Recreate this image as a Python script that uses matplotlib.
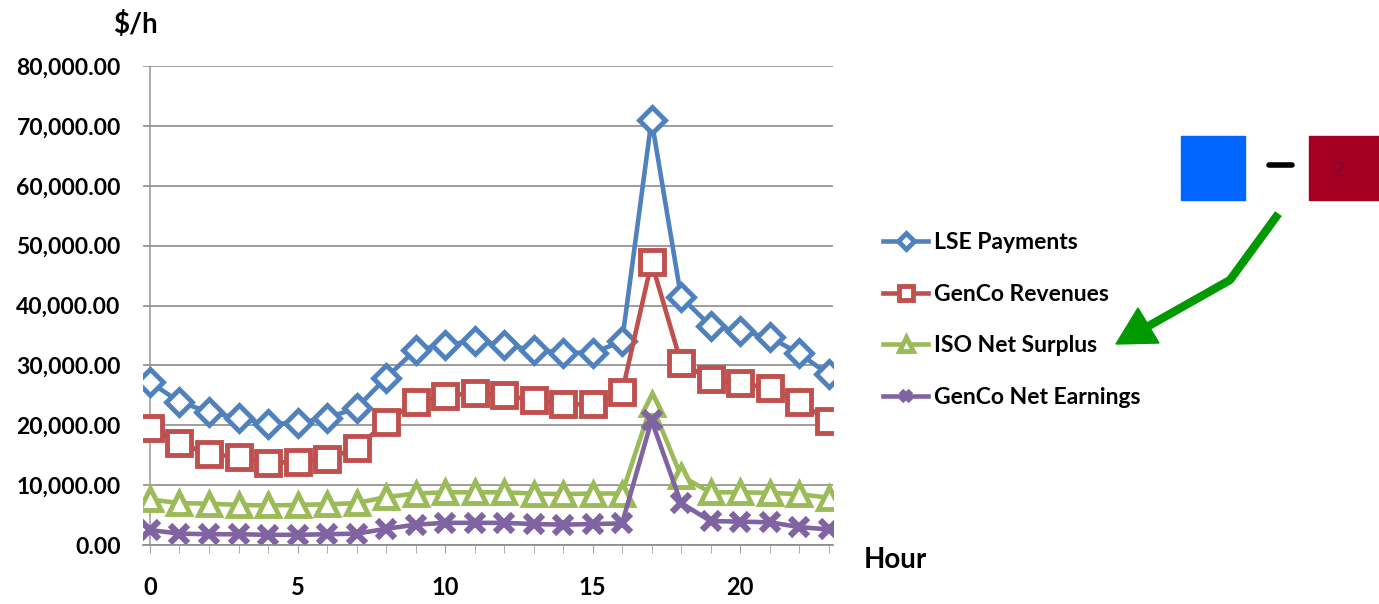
import matplotlib
matplotlib.use("Agg")
import matplotlib.pyplot as plt
from matplotlib.lines import Line2D
from matplotlib.patches import Rectangle, Polygon
from matplotlib.ticker import FuncFormatter, MultipleLocator

plt.rcParams["font.family"] = ["Lato", "DejaVu Sans"]

W, H = 1379, 604

hours = list(range(24))
lse_payments = [27200, 23900, 22200, 21200, 20200, 20400, 21200, 22900,
                27900, 32600, 33400, 34100, 33400, 32600, 32100, 32100,
                34000, 71000, 41400, 36600, 35700, 34700, 32000, 28500]
genco_revenues = [19500, 17000, 15200, 14700, 13700, 13900, 14400, 16200,
                  20500, 23900, 24900, 25400, 25000, 24200, 23500, 23500,
                  25500, 47200, 30400, 27700, 27000, 26200, 23900, 20700]
iso_surplus = [7600, 7000, 6900, 6700, 6600, 6700, 6800, 7000,
               8000, 8600, 8800, 8800, 8800, 8600, 8500, 8600,
               8600, 23500, 11500, 8800, 8800, 8700, 8500, 7900]
genco_earnings = [2500, 1900, 1800, 1800, 1700, 1700, 1800, 1900,
                  2700, 3400, 3700, 3700, 3700, 3500, 3400, 3500,
                  3600, 20800, 7000, 4000, 3900, 3800, 3000, 2600]

series = [
    (lse_payments, "#4F81BD", "D", 13, "LSE Payments"),
    (genco_revenues, "#C0504D", "s", 17, "GenCo Revenues"),
    (iso_surplus, "#9BBB59", "^", 16, "ISO Net Surplus"),
    (genco_earnings, "#8064A2", "x", 13, "GenCo Net Earnings"),
]

def px(x, y):
    return (x / W, 1 - y / H)

fig = plt.figure(figsize=(W / 100, H / 100), dpi=100)
ax = fig.add_axes([143 / W, 59 / H, 690 / W, 479 / H])

for vals, c, m, ms, lbl in series:
    if m == "x":
        ax.plot(hours, vals, color=c, lw=3.3, marker=m, ms=ms, mew=4.5, label=lbl)
    else:
        ax.plot(hours, vals, color=c, lw=3.3, marker=m, ms=ms, mfc="white",
                mec=c, mew=3.5, label=lbl)

ax.set_xlim(-0.237, 23.15)
ax.set_ylim(0, 80000)
ax.yaxis.set_major_locator(MultipleLocator(10000))
ax.yaxis.set_major_formatter(FuncFormatter(lambda v, p: f"{v:,.2f}"))
ax.xaxis.set_major_locator(MultipleLocator(5))
ax.xaxis.set_minor_locator(MultipleLocator(1))
ax.grid(axis="y", color="#8c8c8c", lw=1.2)
ax.set_axisbelow(True)
ax.axvline(0, color="#a0a0a0", lw=1.2, zorder=0)
for s in ("top", "right", "left"):
    ax.spines[s].set_visible(False)
ax.spines["bottom"].set_color("#8c8c8c")
ax.spines["bottom"].set_linewidth(1.2)
ax.tick_params(axis="y", length=0, pad=16, labelsize=16.5)
ax.tick_params(axis="x", which="both", length=6, color="#a0a0a0", pad=16,
               labelsize=17)
for t in ax.get_yticklabels() + ax.get_xticklabels():
    t.set_fontweight("bold")

fig.text(*px(113, 25), "$/h", fontsize=20, fontweight="bold", va="center")
fig.text(*px(864, 560), "Hour", fontsize=20, fontweight="bold", va="center")

leg = fig.legend(loc="center left", bbox_to_anchor=px(862, 320), frameon=False,
                 fontsize=16.5, labelspacing=1.35, handlelength=2.0,
                 handletextpad=0.25, markerscale=0.6)
for t in leg.get_texts():
    t.set_fontweight("bold")

# annotation: blue square - red square, arrow to ISO Net Surplus
fig.add_artist(Rectangle(px(1181, 200), 64 / W, 64 / H, color="#0066FF",
                         transform=fig.transFigure))
fig.add_artist(Rectangle(px(1309, 200), 70 / W, 64 / H, color="#A50021",
                         transform=fig.transFigure))
fig.text(*px(1339, 170), "Z", color="#8a0030", fontsize=14, ha="center",
         va="center")
fig.add_artist(Line2D([1269 / W, 1292 / W], [1 - 165 / H, 1 - 165 / H],
                      color="black", lw=4, solid_capstyle="round",
                      transform=fig.transFigure))
xs = [1276, 1230, 1145]
ys = [217, 280, 328]
fig.add_artist(Line2D([x / W for x in xs], [1 - y / H for y in ys],
                      color="#009900", lw=6, transform=fig.transFigure))
fig.add_artist(Polygon([px(1116, 344), px(1138, 308), px(1159, 343)],
                       closed=True, color="#009900", transform=fig.transFigure))

plt.savefig("out.png", dpi=100)
